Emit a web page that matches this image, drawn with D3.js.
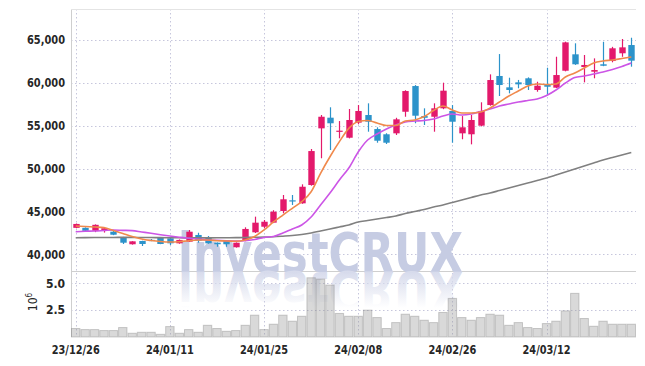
<!DOCTYPE html>
<html>
<head>
<meta charset="utf-8">
<script src="https://cdn.jsdelivr.net/npm/d3@7"></script>
<style>
  body { margin: 0; background: #fff; }
  svg { display: block; font-family: "DejaVu Sans Condensed", "DejaVu Sans", sans-serif; }
</style>
</head>
<body>
<div id="chart"></div>
<script>
// trading days (yy/mm/dd)
const dates = [
  "23/12/26","23/12/27","23/12/28",
  "24/01/02","24/01/03","24/01/04","24/01/05","24/01/08","24/01/09","24/01/10","24/01/11",
  "24/01/12","24/01/15","24/01/16","24/01/17","24/01/18","24/01/19","24/01/22","24/01/23","24/01/24","24/01/25",
  "24/01/26","24/01/29","24/01/30","24/01/31","24/02/01","24/02/02","24/02/05","24/02/06","24/02/07","24/02/08",
  "24/02/13","24/02/14","24/02/15","24/02/16","24/02/19","24/02/20","24/02/21","24/02/22","24/02/23","24/02/26",
  "24/02/27","24/02/28","24/02/29","24/03/04","24/03/05","24/03/06","24/03/07","24/03/08","24/03/11","24/03/12",
  "24/03/13","24/03/14","24/03/15","24/03/18","24/03/19","24/03/20","24/03/21","24/03/22","24/03/25"
];
const openP = [
  43100,43100,42750,42800,42650,42000,41190,41570,41700,41950,41880,
  41300,41490,42270,42000,41370,41570,40840,41600,42580,43230,
  43700,45060,46300,45950,48080,54670,55910,54330,53580,55330,
  56220,54590,53980,54090,56600,59590,56100,56020,57000,56690,
  54090,53980,54980,57380,60760,59440,60020,60490,59130,59710,
  59400,61370,63280,61800,61260,62120,62500,63400,64360
];
const highP = [
  43600,43150,43500,43100,42850,42050,41550,41600,41800,42000,42070,
  41750,42850,42530,42150,41400,41600,41400,43160,44400,44010,
  45150,46920,46920,48160,52270,56220,57120,55520,56920,57380,
  57580,54790,54100,55900,59100,59700,57000,57580,59980,57380,
  56100,56220,57700,60950,63310,60560,60300,60600,60090,61720,
  63000,64750,64560,63200,62810,64740,64150,65060,65210
];
const lowP = [
  43050,42700,42600,42550,42250,41220,41150,40990,41550,41200,41100,
  41250,41450,41370,41250,40900,40900,40800,41550,42500,43040,
  43650,44790,45760,45900,48000,51190,52150,53510,53500,55140,
  54280,53000,52850,53900,56020,55260,55060,54280,56900,53000,
  53400,52810,54900,57300,58430,58740,59330,59130,58930,58550,
  59350,61300,62050,60020,60490,61900,62350,62990,61840
];
const closeP = [
  43550,42750,43450,43050,42300,41370,41530,41220,41650,41220,41300,
  41690,42650,41600,41300,41190,41190,41370,42970,43700,43810,
  44980,46420,46200,47880,52030,56020,55260,54400,55640,56690,
  55440,53230,53000,55720,59010,56140,55900,57000,59050,55440,
  54790,55640,56690,60290,59710,59130,59790,59710,59630,59510,
  60870,64670,62120,62040,61450,61950,63980,64090,62540
];
// volume, millions of shares
const volume = [
  0.79,0.69,0.69,0.60,0.60,0.88,0.35,0.44,0.44,0.25,0.97,
  0.35,0.69,0.44,1.09,0.79,0.53,0.60,1.09,2.03,0.69,
  1.19,2.03,1.47,1.93,5.51,5.39,4.83,2.19,1.93,1.93,
  2.50,1.81,0.79,1.34,2.12,1.93,1.56,1.34,2.28,3.59,
  1.81,1.56,1.81,2.12,2.03,1.09,1.34,0.88,0.79,1.25,
  1.47,2.43,4.06,1.72,1.00,1.47,1.19,1.19,1.19
];
// moving averages
const maShort = [
  43310,43260,43200,43120,42790,42440,42090,41800,41630,41510,41450,
  41490,41600,41690,41690,41600,41570,41540,41690,42090,42850,
  43780,44590,45370,46140,47300,49440,51370,53120,54670,55470,
  55580,55290,55000,55000,55520,55640,56050,56740,57270,56800,
  56450,56450,56570,57040,57730,58430,59010,59590,59830,59770,
  59830,60640,61110,61690,62270,62500,62620,62790,62970
];
const maLong = [
  42650,42700,42730,42790,42850,42810,42770,42620,42470,42300,42150,
  42010,41880,41780,41690,41650,41600,41570,41600,41740,41980,
  42090,42500,42970,43430,44360,45760,47150,48660,50060,51920,
  53310,54010,54590,55060,55410,55520,55580,55760,56110,56340,
  56220,56340,56630,56920,57270,57500,57730,57910,58080,58490,
  59130,59940,60580,60760,60990,61220,61510,61860,62270
];
const maTrend = [
  41950,41960,41970,41980,41980,41990,41990,41980,41970,41960,41950,
  41940,41930,41930,41930,41940,41950,41960,41980,42000,42020,
  42060,42130,42210,42330,42500,42730,42970,43200,43430,43780,
  43950,44130,44300,44480,44770,45000,45230,45520,45760,46050,
  46340,46630,46920,47150,47440,47730,48020,48310,48600,48900,
  49240,49590,49940,50290,50640,50990,51280,51570,51860
];
const priceTicks = [40000, 45000, 50000, 55000, 60000, 65000];
const volTicks = [2.5, 5.0];
const dateTicks = ["23/12/26","24/01/11","24/01/25","24/02/08","24/02/26","24/03/12"];

const W = 645, H = 366;
const plotL = 71, plotR = 636, plotT = 9, split = 271, plotB = 337;
const upColor = "#e3196b", downColor = "#2c93ca";
const gridColor = "#c6c6dc";
const labelFont = "'DejaVu Sans Condensed', 'DejaVu Sans', sans-serif";

const svg = d3.select("#chart").append("svg")
  .attr("width", W).attr("height", H);

const x = d3.scaleBand().domain(dates).range([plotL, plotR]).padding(0);
const bw = x.bandwidth();
const cx = d => x(d) + bw / 2;

const y = d3.scaleLinear().domain([38080, 68550]).range([split, plotT]);
const yv = d3.scaleLinear().domain([0, 6.14]).range([plotB, split]);

// grid
const grid = svg.append("g")
  .attr("stroke", gridColor).attr("stroke-dasharray", "1.5,2.5").attr("stroke-width", 1);
grid.selectAll(".hp").data(priceTicks).enter().append("line")
  .attr("x1", plotL).attr("x2", plotR)
  .attr("y1", d => Math.round(y(d)) + 0.5).attr("y2", d => Math.round(y(d)) + 0.5);
grid.selectAll(".hv").data(volTicks).enter().append("line")
  .attr("x1", plotL).attr("x2", plotR)
  .attr("y1", d => Math.round(yv(d)) + 0.5).attr("y2", d => Math.round(yv(d)) + 0.5);
grid.selectAll(".vx").data(dateTicks).enter().append("line")
  .attr("x1", d => Math.round(cx(d)) + 0.5).attr("x2", d => Math.round(cx(d)) + 0.5)
  .attr("y1", plotT).attr("y2", plotB);

// frame
svg.append("line").attr("x1", plotL + 0.5).attr("x2", plotL + 0.5).attr("y1", plotT).attr("y2", plotB)
  .attr("stroke", "#cfcfcf");
svg.append("line").attr("x1", plotL).attr("x2", plotR).attr("y1", plotT + 0.5).attr("y2", plotT + 0.5)
  .attr("stroke", "#e4e4e4");
svg.append("line").attr("x1", plotL).attr("x2", plotR).attr("y1", split + 0.5).attr("y2", split + 0.5)
  .attr("stroke", "#cfcfcf");

// watermark + its reflection (drawn as a shape-like mark, not a label)
const defs = svg.append("defs");
const grad = defs.append("linearGradient").attr("id", "refl")
  .attr("gradientUnits", "userSpaceOnUse").attr("x1", 0).attr("x2", 0).attr("y1", 272).attr("y2", 236);
grad.append("stop").attr("offset", 0).attr("stop-color", "#d7dbec").attr("stop-opacity", 1);
grad.append("stop").attr("offset", 1).attr("stop-color", "#d7dbec").attr("stop-opacity", 0);

const wm = svg.append("g").attr("font-family", "'DejaVu Sans', sans-serif").attr("font-weight", "bold")
  .attr("font-size", 55);
wm.append("text").attr("x", 178).attr("y", 272)
  .attr("textLength", 285).attr("lengthAdjust", "spacingAndGlyphs")
  .attr("fill", "#c6cce3").text("investCRUX");
wm.append("text").attr("x", 178).attr("y", 272)
  .attr("transform", "translate(0,544) scale(1,-1)")
  .attr("textLength", 285).attr("lengthAdjust", "spacingAndGlyphs")
  .attr("fill", "url(#refl)").text("investCRUX");

// volume
svg.append("g").selectAll("rect").data(dates).enter().append("rect")
  .attr("x", d => x(d) + 0.5)
  .attr("width", bw - 1)
  .attr("y", (d, i) => yv(volume[i]))
  .attr("height", (d, i) => plotB - yv(volume[i]))
  .attr("fill", "rgba(150,150,150,0.36)")
  .attr("stroke", "rgba(120,120,120,0.35)");

// candles
const candles = svg.append("g").selectAll("g").data(dates).enter().append("g")
  .attr("class", "candle");
candles.append("line")
  .attr("x1", d => Math.round(cx(d)) + 0.5).attr("x2", d => Math.round(cx(d)) + 0.5)
  .attr("y1", (d, i) => y(highP[i])).attr("y2", (d, i) => y(lowP[i]))
  .attr("stroke", (d, i) => closeP[i] >= openP[i] ? upColor : downColor)
  .attr("stroke-width", 1.2);
candles.append("rect")
  .attr("x", d => Math.round(cx(d)) + 0.5 - 3.2)
  .attr("width", 6.4)
  .attr("y", (d, i) => y(Math.max(openP[i], closeP[i])))
  .attr("height", (d, i) => Math.max(1.2, Math.abs(y(openP[i]) - y(closeP[i]))))
  .attr("fill", (d, i) => closeP[i] >= openP[i] ? upColor : downColor);

// moving averages
const line = d3.line().x((v, i) => cx(dates[i])).y(v => y(v)).curve(d3.curveMonotoneX);
[[maTrend, "#808080"], [maLong, "#cc55e6"], [maShort, "#f0894c"]].forEach(([s, c]) => {
  svg.append("path").datum(s).attr("d", line)
    .attr("fill", "none").attr("stroke", c).attr("stroke-width", 1.6);
});

// axes
const fmt = d3.format(",");
const yAxis = svg.append("g").attr("transform", `translate(${plotL - 6},0)`)
  .call(d3.axisLeft(y).tickValues(priceTicks).tickFormat(fmt).tickSize(0));
const vAxis = svg.append("g").attr("transform", `translate(${plotL - 6},0)`)
  .call(d3.axisLeft(yv).tickValues(volTicks).tickFormat(d3.format(".1f")).tickSize(0));
const xAxis = svg.append("g").attr("transform", `translate(0,${plotB + 2})`)
  .call(d3.axisBottom(x).tickValues(dateTicks).tickSize(0));
[yAxis, vAxis, xAxis].forEach(a => {
  a.select(".domain").remove();
  a.selectAll("text").attr("fill", "#262626").attr("font-size", 12)
    .attr("font-weight", 600).attr("font-family", labelFont);
});
yAxis.selectAll("text").attr("x", 0).attr("textLength", function() {
  return this.textContent.length > 3 ? 38 : null;
}).attr("lengthAdjust", "spacingAndGlyphs");
vAxis.selectAll("text").attr("x", 0);
xAxis.selectAll("text").attr("dy", "0.95em").attr("y", 4)
  .attr("textLength", 48).attr("lengthAdjust", "spacingAndGlyphs");

// volume unit label
const unit = svg.append("text").attr("transform", "translate(37,302) rotate(-90)")
  .attr("text-anchor", "middle").attr("fill", "#262626").attr("font-size", 12)
  .attr("font-family", labelFont);
unit.append("tspan").text("10");
unit.append("tspan").attr("dy", -5).attr("font-size", 8).text("6");
</script>
</body>
</html>
